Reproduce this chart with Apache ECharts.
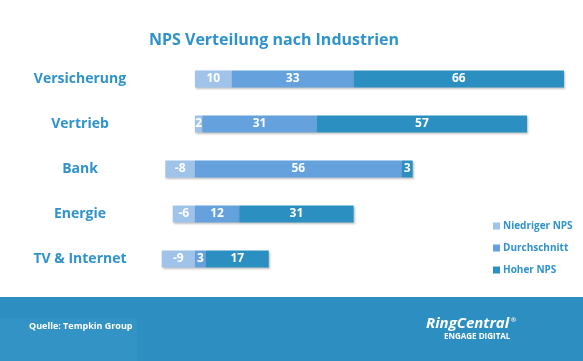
<!DOCTYPE html>
<html><head><meta charset="utf-8">
<script src="https://cdn.jsdelivr.net/npm/echarts@6/dist/echarts.min.js"></script>
<style>html,body{margin:0;padding:0;background:#fff}#c{width:583px;height:361px}</style>
</head><body><div id="c"></div>
<script>
var categories = ['Versicherung', 'Vertrieb', 'Bank', 'Energie', 'TV & Internet'];
var seriesNames = ['Niedriger NPS', 'Durchschnitt', 'Hoher NPS'];
var niedriger = [10, 2, -8, -6, -9];
var durchschnitt = [33, 31, 56, 12, 3];
var hoher = [66, 57, 3, 31, 17];
var colors = ['#9fc3e9', '#65a1dc', '#2b8fc1'];
var blue = '#2e93cc';
var font = 'Open Sans';

var chart = echarts.init(document.getElementById('c'));
function mk(name, data, color) {
  return {
    name: name, type: 'bar', stack: 'nps', data: data, barWidth: 17,
    itemStyle: { color: color, shadowColor: 'rgba(0,0,0,0.25)', shadowBlur: 2, shadowOffsetX: 1, shadowOffsetY: 1 },
    label: { show: true, position: 'inside', color: '#fff', fontWeight: 'bold', fontSize: 12, fontFamily: font },
    emphasis: { disabled: true }
  };
}
chart.setOption({
  animation: false,
  textStyle: { fontFamily: font },
  title: {
    text: 'NPS Verteilung nach Industrien', left: 269, top: 27, textAlign: 'center',
    textStyle: { color: blue, fontSize: 16, fontWeight: 'bold', fontFamily: font }
  },
  legend: {
    orient: 'vertical', left: 488, top: 216, itemWidth: 7, itemHeight: 7, itemGap: 12, icon: 'rect',
    data: seriesNames,
    textStyle: { color: blue, fontSize: 10, fontWeight: 'bold', fontFamily: font, padding: [0, 0, 0, -2] }
  },
  grid: { left: 158, top: 56.5, width: 406, height: 225, containLabel: false },
  xAxis: { type: 'value', min: -10, max: 100, show: false },
  yAxis: {
    type: 'category', data: categories, inverse: true,
    axisLine: { show: false }, axisTick: { show: false },
    axisLabel: { align: 'center', margin: 78, color: blue, fontSize: 14, fontWeight: 'bold', fontFamily: font }
  },
  series: [mk(seriesNames[0], niedriger, colors[0]), mk(seriesNames[1], durchschnitt, colors[1]), mk(seriesNames[2], hoher, colors[2])],
  graphic: [
    { type: 'rect', shape: { x: 0, y: 297, width: 583, height: 64 }, style: { fill: '#2d8fc1' }, z: -1 },
    { type: 'rect', shape: { x: 0, y: 318, width: 137, height: 43 }, style: { fill: '#3393c4' }, z: 0 },
    { type: 'text', left: 29, top: 322, style: { text: 'Quelle: Tempkin Group', fill: '#fff', font: 'bold 9px "Open Sans"' } },
    { type: 'text', left: 426, top: 316, style: { text: 'RingCentral', fill: '#fff', font: 'italic bold 15px "Open Sans"' } },
    { type: 'text', left: 511, top: 317, style: { text: '®', fill: '#fff', font: 'bold 6px "Open Sans"' } },
    { type: 'text', left: 444, top: 333, style: { text: 'ENGAGE DIGITAL', fill: '#fff', font: 'bold 8px "Open Sans"' } }
  ]
});
</script></body></html>
